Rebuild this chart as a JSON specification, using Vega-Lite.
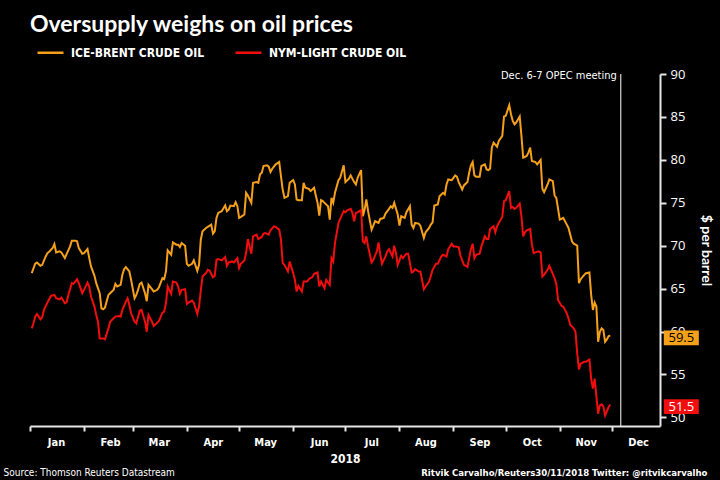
{
 "$schema": "https://vega.github.io/schema/vega-lite/v6.json",
 "width": 630, "height": 352,
 "autosize": {"type": "none"},
 "padding": {"left": 30, "top": 74, "right": 60, "bottom": 54},
 "background": "#000000",
 "config": {"view": {"stroke": null}, "font": "'DejaVu Sans Condensed', Roboto"},
 "title": {"text": "Oversupply weighs on oil prices", "anchor": "start", "frame": "group", "color": "#ffffff", "font": "Lato", "fontSize": 23, "fontWeight": "bold", "offset": 1},
 "datasets": {
  "brent": [{"date":"2018-01-02","price":66.8},{"date":"2018-01-04","price":67.9},{"date":"2018-01-05","price":68.05},{"date":"2018-01-07","price":67.66},{"date":"2018-01-08","price":67.78},{"date":"2018-01-10","price":68.75},{"date":"2018-01-11","price":69.14},{"date":"2018-01-12","price":69.3},{"date":"2018-01-14","price":69.73},{"date":"2018-01-15","price":70.2},{"date":"2018-01-16","price":69.22},{"date":"2018-01-18","price":69.34},{"date":"2018-01-19","price":69.22},{"date":"2018-01-21","price":68.56},{"date":"2018-01-22","price":69.03},{"date":"2018-01-24","price":69.92},{"date":"2018-01-25","price":70.59},{"date":"2018-01-27","price":70.59},{"date":"2018-01-28","price":70.51},{"date":"2018-01-29","price":69.73},{"date":"2018-01-31","price":69.07},{"date":"2018-02-01","price":69.14},{"date":"2018-02-03","price":69.61},{"date":"2018-02-04","price":68.56},{"date":"2018-02-05","price":67.59},{"date":"2018-02-07","price":66.49},{"date":"2018-02-08","price":65.64},{"date":"2018-02-10","price":64.47},{"date":"2018-02-11","price":62.71},{"date":"2018-02-12","price":62.6},{"date":"2018-02-13","price":62.79},{"date":"2018-02-15","price":64.27},{"date":"2018-02-16","price":64.47},{"date":"2018-02-18","price":64.86},{"date":"2018-02-19","price":65.56},{"date":"2018-02-20","price":65.25},{"date":"2018-02-22","price":65.44},{"date":"2018-02-23","price":66.61},{"date":"2018-02-24","price":67.27},{"date":"2018-02-25","price":67.51},{"date":"2018-02-27","price":67.0},{"date":"2018-02-28","price":66.03},{"date":"2018-03-02","price":63.88},{"date":"2018-03-03","price":64.27},{"date":"2018-03-04","price":64.86},{"date":"2018-03-05","price":65.56},{"date":"2018-03-06","price":65.71},{"date":"2018-03-08","price":64.47},{"date":"2018-03-09","price":63.53},{"date":"2018-03-10","price":65.44},{"date":"2018-03-12","price":64.93},{"date":"2018-03-13","price":64.66},{"date":"2018-03-15","price":64.86},{"date":"2018-03-16","price":65.17},{"date":"2018-03-18","price":66.22},{"date":"2018-03-19","price":66.1},{"date":"2018-03-20","price":67.0},{"date":"2018-03-21","price":69.46},{"date":"2018-03-23","price":68.95},{"date":"2018-03-24","price":70.39},{"date":"2018-03-26","price":70.12},{"date":"2018-03-27","price":70.12},{"date":"2018-03-28","price":69.85},{"date":"2018-03-29","price":70.31},{"date":"2018-03-31","price":70.0},{"date":"2018-04-01","price":67.9},{"date":"2018-04-02","price":67.66},{"date":"2018-04-04","price":67.9},{"date":"2018-04-05","price":68.29},{"date":"2018-04-07","price":67.08},{"date":"2018-04-08","price":67.78},{"date":"2018-04-09","price":70.7},{"date":"2018-04-10","price":71.68},{"date":"2018-04-12","price":72.07},{"date":"2018-04-13","price":72.19},{"date":"2018-04-15","price":72.46},{"date":"2018-04-16","price":71.41},{"date":"2018-04-17","price":71.68},{"date":"2018-04-18","price":73.24},{"date":"2018-04-19","price":73.82},{"date":"2018-04-21","price":74.02},{"date":"2018-04-23","price":74.68},{"date":"2018-04-24","price":74.02},{"date":"2018-04-25","price":74.21},{"date":"2018-04-26","price":74.68},{"date":"2018-04-28","price":74.6},{"date":"2018-04-29","price":75.07},{"date":"2018-04-30","price":74.6},{"date":"2018-05-01","price":73.24},{"date":"2018-05-02","price":73.36},{"date":"2018-05-04","price":73.63},{"date":"2018-05-05","price":76.16},{"date":"2018-05-06","price":75.85},{"date":"2018-05-08","price":75.0},{"date":"2018-05-09","price":77.33},{"date":"2018-05-11","price":77.41},{"date":"2018-05-12","price":77.33},{"date":"2018-05-13","price":78.31},{"date":"2018-05-14","price":78.5},{"date":"2018-05-15","price":79.28},{"date":"2018-05-17","price":79.36},{"date":"2018-05-18","price":79.2},{"date":"2018-05-19","price":78.58},{"date":"2018-05-20","price":78.97},{"date":"2018-05-22","price":79.48},{"date":"2018-05-24","price":79.75},{"date":"2018-05-25","price":78.11},{"date":"2018-05-26","price":76.55},{"date":"2018-05-27","price":75.58},{"date":"2018-05-29","price":75.77},{"date":"2018-05-30","price":77.33},{"date":"2018-06-01","price":77.64},{"date":"2018-06-02","price":77.14},{"date":"2018-06-03","price":75.38},{"date":"2018-06-04","price":75.3},{"date":"2018-06-06","price":75.3},{"date":"2018-06-07","price":77.33},{"date":"2018-06-08","price":76.75},{"date":"2018-06-10","price":76.63},{"date":"2018-06-11","price":76.36},{"date":"2018-06-13","price":76.75},{"date":"2018-06-14","price":75.85},{"date":"2018-06-15","price":75.0},{"date":"2018-06-16","price":73.51},{"date":"2018-06-17","price":75.3},{"date":"2018-06-18","price":75.19},{"date":"2018-06-19","price":74.99},{"date":"2018-06-21","price":74.6},{"date":"2018-06-22","price":73.04},{"date":"2018-06-23","price":75.57},{"date":"2018-06-24","price":74.99},{"date":"2018-06-25","price":76.16},{"date":"2018-06-27","price":77.64},{"date":"2018-06-28","price":77.91},{"date":"2018-06-30","price":79.36},{"date":"2018-07-01","price":77.41},{"date":"2018-07-03","price":77.8},{"date":"2018-07-04","price":78.19},{"date":"2018-07-06","price":77.41},{"date":"2018-07-07","price":77.13},{"date":"2018-07-08","price":77.91},{"date":"2018-07-10","price":78.81},{"date":"2018-07-11","price":73.43},{"date":"2018-07-12","price":74.21},{"date":"2018-07-13","price":75.38},{"date":"2018-07-14","price":74.02},{"date":"2018-07-16","price":71.87},{"date":"2018-07-17","price":72.34},{"date":"2018-07-18","price":72.85},{"date":"2018-07-20","price":72.65},{"date":"2018-07-21","price":73.12},{"date":"2018-07-23","price":73.24},{"date":"2018-07-24","price":73.74},{"date":"2018-07-26","price":74.29},{"date":"2018-07-27","price":74.6},{"date":"2018-07-28","price":74.41},{"date":"2018-07-29","price":74.99},{"date":"2018-07-31","price":73.63},{"date":"2018-08-01","price":72.34},{"date":"2018-08-02","price":73.43},{"date":"2018-08-04","price":73.24},{"date":"2018-08-05","price":73.9},{"date":"2018-08-07","price":74.6},{"date":"2018-08-08","price":72.46},{"date":"2018-08-09","price":72.07},{"date":"2018-08-10","price":72.65},{"date":"2018-08-12","price":72.57},{"date":"2018-08-13","price":72.34},{"date":"2018-08-15","price":70.9},{"date":"2018-08-16","price":71.56},{"date":"2018-08-18","price":72.07},{"date":"2018-08-19","price":72.46},{"date":"2018-08-20","price":72.73},{"date":"2018-08-21","price":74.68},{"date":"2018-08-23","price":74.8},{"date":"2018-08-24","price":75.77},{"date":"2018-08-26","price":76.16},{"date":"2018-08-27","price":75.97},{"date":"2018-08-28","price":77.13},{"date":"2018-08-29","price":77.72},{"date":"2018-08-31","price":77.64},{"date":"2018-09-02","price":78.19},{"date":"2018-09-03","price":78.03},{"date":"2018-09-04","price":77.41},{"date":"2018-09-06","price":76.55},{"date":"2018-09-07","price":77.02},{"date":"2018-09-09","price":77.41},{"date":"2018-09-10","price":78.5},{"date":"2018-09-11","price":79.36},{"date":"2018-09-12","price":79.75},{"date":"2018-09-13","price":78.19},{"date":"2018-09-14","price":78.03},{"date":"2018-09-16","price":78.03},{"date":"2018-09-17","price":79.28},{"date":"2018-09-19","price":79.47},{"date":"2018-09-20","price":78.89},{"date":"2018-09-21","price":78.81},{"date":"2018-09-22","price":78.97},{"date":"2018-09-23","price":81.42},{"date":"2018-09-24","price":82.01},{"date":"2018-09-26","price":81.54},{"date":"2018-09-27","price":82.2},{"date":"2018-09-29","price":82.79},{"date":"2018-09-30","price":85.05},{"date":"2018-10-01","price":85.13},{"date":"2018-10-03","price":86.37},{"date":"2018-10-04","price":85.32},{"date":"2018-10-05","price":84.54},{"date":"2018-10-06","price":84.15},{"date":"2018-10-07","price":84.35},{"date":"2018-10-09","price":85.05},{"date":"2018-10-10","price":82.79},{"date":"2018-10-11","price":80.25},{"date":"2018-10-13","price":80.45},{"date":"2018-10-14","price":80.84},{"date":"2018-10-15","price":81.42},{"date":"2018-10-16","price":79.86},{"date":"2018-10-18","price":79.75},{"date":"2018-10-19","price":79.47},{"date":"2018-10-21","price":79.98},{"date":"2018-10-22","price":76.63},{"date":"2018-10-23","price":76.24},{"date":"2018-10-25","price":77.13},{"date":"2018-10-26","price":77.72},{"date":"2018-10-28","price":77.52},{"date":"2018-10-29","price":75.85},{"date":"2018-10-30","price":75.58},{"date":"2018-11-01","price":73.04},{"date":"2018-11-02","price":73.12},{"date":"2018-11-03","price":73.24},{"date":"2018-11-05","price":72.46},{"date":"2018-11-06","price":72.07},{"date":"2018-11-08","price":70.51},{"date":"2018-11-09","price":70.23},{"date":"2018-11-11","price":70.0},{"date":"2018-11-12","price":65.63},{"date":"2018-11-13","price":66.1},{"date":"2018-11-15","price":66.61},{"date":"2018-11-16","price":66.8},{"date":"2018-11-18","price":66.88},{"date":"2018-11-19","price":64.27},{"date":"2018-11-20","price":62.52},{"date":"2018-11-21","price":63.37},{"date":"2018-11-22","price":62.91},{"date":"2018-11-23","price":58.81},{"date":"2018-11-24","price":59.98},{"date":"2018-11-25","price":60.37},{"date":"2018-11-26","price":60.17},{"date":"2018-11-27","price":58.81},{"date":"2018-11-28","price":59.08},{"date":"2018-11-29","price":59.47},{"date":"2018-11-30","price":59.5}],
  "wti": [{"date":"2018-01-02","price":60.37},{"date":"2018-01-03","price":60.96},{"date":"2018-01-04","price":61.74},{"date":"2018-01-05","price":62.05},{"date":"2018-01-07","price":61.43},{"date":"2018-01-08","price":61.66},{"date":"2018-01-09","price":62.52},{"date":"2018-01-11","price":63.37},{"date":"2018-01-12","price":63.76},{"date":"2018-01-13","price":64.15},{"date":"2018-01-15","price":64.27},{"date":"2018-01-16","price":63.88},{"date":"2018-01-18","price":63.76},{"date":"2018-01-19","price":63.96},{"date":"2018-01-21","price":63.3},{"date":"2018-01-22","price":63.41},{"date":"2018-01-23","price":64.27},{"date":"2018-01-25","price":65.64},{"date":"2018-01-26","price":65.56},{"date":"2018-01-28","price":66.1},{"date":"2018-01-29","price":65.64},{"date":"2018-01-31","price":64.47},{"date":"2018-02-01","price":64.86},{"date":"2018-02-03","price":65.71},{"date":"2018-02-04","price":65.25},{"date":"2018-02-05","price":64.08},{"date":"2018-02-07","price":62.91},{"date":"2018-02-08","price":61.93},{"date":"2018-02-09","price":61.15},{"date":"2018-02-10","price":59.2},{"date":"2018-02-12","price":59.2},{"date":"2018-02-13","price":59.09},{"date":"2018-02-15","price":60.37},{"date":"2018-02-16","price":61.15},{"date":"2018-02-18","price":61.54},{"date":"2018-02-19","price":61.74},{"date":"2018-02-21","price":61.81},{"date":"2018-02-22","price":61.74},{"date":"2018-02-23","price":62.52},{"date":"2018-02-25","price":63.49},{"date":"2018-02-26","price":63.88},{"date":"2018-02-27","price":63.1},{"date":"2018-02-28","price":62.13},{"date":"2018-03-02","price":61.15},{"date":"2018-03-03","price":60.96},{"date":"2018-03-05","price":62.44},{"date":"2018-03-06","price":62.52},{"date":"2018-03-08","price":61.15},{"date":"2018-03-09","price":59.98},{"date":"2018-03-10","price":61.93},{"date":"2018-03-12","price":61.15},{"date":"2018-03-13","price":60.65},{"date":"2018-03-15","price":61.04},{"date":"2018-03-16","price":61.23},{"date":"2018-03-18","price":62.21},{"date":"2018-03-19","price":62.32},{"date":"2018-03-20","price":63.3},{"date":"2018-03-21","price":65.25},{"date":"2018-03-23","price":64.39},{"date":"2018-03-24","price":65.83},{"date":"2018-03-26","price":65.71},{"date":"2018-03-27","price":65.25},{"date":"2018-03-28","price":64.39},{"date":"2018-03-29","price":64.86},{"date":"2018-03-31","price":64.93},{"date":"2018-04-01","price":63.22},{"date":"2018-04-02","price":63.37},{"date":"2018-04-04","price":63.61},{"date":"2018-04-05","price":63.37},{"date":"2018-04-07","price":62.05},{"date":"2018-04-08","price":62.91},{"date":"2018-04-09","price":64.78},{"date":"2018-04-10","price":66.42},{"date":"2018-04-12","price":66.81},{"date":"2018-04-13","price":67.2},{"date":"2018-04-14","price":67.12},{"date":"2018-04-16","price":66.34},{"date":"2018-04-17","price":66.49},{"date":"2018-04-18","price":68.36},{"date":"2018-04-19","price":68.44},{"date":"2018-04-21","price":68.29},{"date":"2018-04-23","price":68.68},{"date":"2018-04-24","price":67.66},{"date":"2018-04-25","price":68.05},{"date":"2018-04-27","price":68.17},{"date":"2018-04-28","price":68.05},{"date":"2018-04-30","price":68.56},{"date":"2018-05-01","price":67.39},{"date":"2018-05-02","price":67.9},{"date":"2018-05-04","price":68.29},{"date":"2018-05-05","price":69.14},{"date":"2018-05-06","price":70.78},{"date":"2018-05-08","price":69.07},{"date":"2018-05-09","price":71.09},{"date":"2018-05-11","price":71.29},{"date":"2018-05-12","price":70.78},{"date":"2018-05-14","price":71.02},{"date":"2018-05-15","price":71.41},{"date":"2018-05-16","price":71.48},{"date":"2018-05-18","price":71.29},{"date":"2018-05-19","price":71.8},{"date":"2018-05-21","price":72.26},{"date":"2018-05-22","price":72.19},{"date":"2018-05-24","price":71.87},{"date":"2018-05-25","price":70.7},{"date":"2018-05-26","price":67.97},{"date":"2018-05-27","price":67.78},{"date":"2018-05-29","price":67.0},{"date":"2018-05-30","price":68.17},{"date":"2018-06-01","price":66.81},{"date":"2018-06-02","price":66.03},{"date":"2018-06-03","price":64.66},{"date":"2018-06-04","price":65.32},{"date":"2018-06-06","price":64.66},{"date":"2018-06-07","price":65.83},{"date":"2018-06-09","price":65.83},{"date":"2018-06-10","price":66.1},{"date":"2018-06-12","price":66.34},{"date":"2018-06-13","price":66.73},{"date":"2018-06-15","price":66.88},{"date":"2018-06-16","price":65.25},{"date":"2018-06-17","price":65.83},{"date":"2018-06-19","price":65.05},{"date":"2018-06-20","price":66.02},{"date":"2018-06-22","price":65.44},{"date":"2018-06-23","price":68.56},{"date":"2018-06-24","price":68.17},{"date":"2018-06-25","price":70.31},{"date":"2018-06-27","price":72.65},{"date":"2018-06-28","price":73.12},{"date":"2018-06-30","price":74.02},{"date":"2018-07-01","price":73.9},{"date":"2018-07-02","price":74.13},{"date":"2018-07-04","price":74.29},{"date":"2018-07-05","price":73.82},{"date":"2018-07-06","price":72.85},{"date":"2018-07-07","price":73.82},{"date":"2018-07-08","price":73.9},{"date":"2018-07-10","price":74.13},{"date":"2018-07-11","price":70.51},{"date":"2018-07-12","price":70.31},{"date":"2018-07-13","price":71.09},{"date":"2018-07-14","price":69.92},{"date":"2018-07-16","price":68.05},{"date":"2018-07-17","price":68.36},{"date":"2018-07-19","price":69.34},{"date":"2018-07-20","price":70.39},{"date":"2018-07-21","price":68.95},{"date":"2018-07-22","price":67.9},{"date":"2018-07-24","price":68.75},{"date":"2018-07-25","price":69.34},{"date":"2018-07-26","price":69.61},{"date":"2018-07-28","price":68.75},{"date":"2018-07-29","price":70.0},{"date":"2018-07-30","price":69.14},{"date":"2018-07-31","price":67.78},{"date":"2018-08-02","price":68.83},{"date":"2018-08-03","price":68.56},{"date":"2018-08-05","price":69.07},{"date":"2018-08-06","price":69.07},{"date":"2018-08-08","price":66.88},{"date":"2018-08-09","price":67.0},{"date":"2018-08-10","price":67.27},{"date":"2018-08-12","price":67.0},{"date":"2018-08-13","price":67.0},{"date":"2018-08-15","price":64.93},{"date":"2018-08-16","price":65.25},{"date":"2018-08-18","price":65.83},{"date":"2018-08-19","price":66.49},{"date":"2018-08-20","price":67.19},{"date":"2018-08-22","price":67.9},{"date":"2018-08-23","price":67.9},{"date":"2018-08-25","price":68.75},{"date":"2018-08-26","price":68.95},{"date":"2018-08-28","price":68.75},{"date":"2018-08-29","price":69.61},{"date":"2018-08-31","price":70.23},{"date":"2018-09-01","price":69.92},{"date":"2018-09-02","price":69.92},{"date":"2018-09-04","price":69.84},{"date":"2018-09-05","price":68.83},{"date":"2018-09-07","price":67.78},{"date":"2018-09-08","price":67.66},{"date":"2018-09-09","price":67.51},{"date":"2018-09-11","price":69.61},{"date":"2018-09-12","price":70.23},{"date":"2018-09-13","price":68.56},{"date":"2018-09-14","price":68.95},{"date":"2018-09-16","price":69.07},{"date":"2018-09-17","price":69.92},{"date":"2018-09-19","price":71.09},{"date":"2018-09-20","price":70.78},{"date":"2018-09-21","price":70.78},{"date":"2018-09-22","price":71.95},{"date":"2018-09-24","price":72.26},{"date":"2018-09-25","price":71.56},{"date":"2018-09-26","price":72.26},{"date":"2018-09-27","price":72.65},{"date":"2018-09-29","price":73.35},{"date":"2018-09-30","price":75.19},{"date":"2018-10-01","price":75.3},{"date":"2018-10-03","price":76.36},{"date":"2018-10-04","price":74.41},{"date":"2018-10-05","price":74.52},{"date":"2018-10-06","price":74.29},{"date":"2018-10-07","price":74.41},{"date":"2018-10-09","price":74.91},{"date":"2018-10-10","price":73.43},{"date":"2018-10-11","price":71.09},{"date":"2018-10-12","price":71.56},{"date":"2018-10-13","price":71.8},{"date":"2018-10-15","price":71.95},{"date":"2018-10-16","price":70.12},{"date":"2018-10-17","price":69.14},{"date":"2018-10-18","price":69.22},{"date":"2018-10-20","price":69.34},{"date":"2018-10-21","price":69.22},{"date":"2018-10-22","price":66.41},{"date":"2018-10-23","price":66.61},{"date":"2018-10-25","price":67.19},{"date":"2018-10-26","price":67.66},{"date":"2018-10-27","price":67.19},{"date":"2018-10-29","price":66.22},{"date":"2018-10-30","price":65.56},{"date":"2018-10-31","price":63.68},{"date":"2018-11-02","price":62.98},{"date":"2018-11-03","price":62.91},{"date":"2018-11-05","price":62.13},{"date":"2018-11-06","price":61.54},{"date":"2018-11-07","price":60.76},{"date":"2018-11-09","price":60.37},{"date":"2018-11-10","price":59.98},{"date":"2018-11-11","price":57.45},{"date":"2018-11-12","price":55.57},{"date":"2018-11-13","price":56.27},{"date":"2018-11-15","price":56.47},{"date":"2018-11-16","price":56.47},{"date":"2018-11-18","price":56.75},{"date":"2018-11-19","price":54.52},{"date":"2018-11-20","price":53.35},{"date":"2018-11-21","price":54.52},{"date":"2018-11-23","price":50.43},{"date":"2018-11-24","price":51.4},{"date":"2018-11-25","price":51.52},{"date":"2018-11-26","price":51.29},{"date":"2018-11-27","price":50.23},{"date":"2018-11-29","price":51.21},{"date":"2018-11-30","price":51.5}],
  "last": [{"series":"ICE-BRENT CRUDE OIL","date":"2018-11-30","price":59.5},{"series":"NYM-LIGHT CRUDE OIL","date":"2018-11-30","price":51.5}],
  "opec": [{"date":"2018-12-06","price":90,"label":"Dec. 6-7 OPEC meeting"}]
 },
 "resolve": {"scale": {"x": "shared", "y": "shared", "color": "shared"}, "axis": {"x": "independent", "y": "independent"}},
 "layer": [
  {
   "data": {"name": "brent"},
   "mark": {"type": "line", "strokeWidth": 2},
   "encoding": {
    "x": {"field": "date", "type": "temporal",
     "scale": {"type": "utc", "domain": [{"year": 2018, "month": 1, "date": 1, "utc": true}, {"year": 2018, "month": 12, "date": 28, "hours": 12, "utc": true}]},
     "axis": {"orient": "bottom", "tickCount": {"interval": "month", "step": 1}, "format": "%b", "labelOffset": 26, "labelFlush": false, "labelOverlap": false, "labelColor": "#ffffff", "labelFont": "'DejaVu Sans Condensed', Roboto", "labelFontSize": 11, "labelFontWeight": "bold", "labelPadding": 5, "tickSize": 5, "tickWidth": 2, "tickColor": "#e6e6e6", "domainColor": "#e6e6e6", "domainWidth": 2, "grid": false, "title": "2018", "titleColor": "#ffffff", "titleFont": "'DejaVu Sans Condensed', Roboto", "titleFontSize": 12, "titleFontWeight": "bold", "titlePadding": 6}},
    "y": {"field": "price", "type": "quantitative",
     "scale": {"domain": [49, 90], "nice": false, "zero": false},
     "axis": {"orient": "right", "values": [50, 55, 60, 65, 70, 75, 80, 85, 90], "grid": false, "title": "$ per barrel", "titleColor": "#ffffff", "titleFont": "Lato", "titleFontSize": 14, "titleFontWeight": "bold", "titlePadding": 14, "labelColor": "#ffffff", "labelFont": "Open Sans", "labelFontSize": 13, "labelPadding": 4, "tickColor": "#e6e6e6", "tickWidth": 2, "tickSize": 6, "domainColor": "#e6e6e6", "domainWidth": 2}},
    "color": {"datum": "ICE-BRENT CRUDE OIL", "type": "nominal",
     "scale": {"domain": ["ICE-BRENT CRUDE OIL", "NYM-LIGHT CRUDE OIL"], "range": ["#f5a01a", "#f00e0e"]},
     "legend": {"orient": "none", "legendX": 6, "legendY": -36, "direction": "horizontal", "title": null, "symbolType": "stroke", "symbolSize": 676, "symbolStrokeWidth": 2.5, "labelColor": "#ffffff", "labelFont": "'DejaVu Sans Condensed', Roboto", "labelFontSize": 12, "labelFontWeight": "bold", "labelOffset": 6, "columnPadding": 25, "padding": 0}}
   }
  },
  {
   "data": {"name": "wti"},
   "mark": {"type": "line", "strokeWidth": 2},
   "encoding": {
    "x": {"field": "date", "type": "temporal", "scale": {"type": "utc", "domain": [{"year": 2018, "month": 1, "date": 1, "utc": true}, {"year": 2018, "month": 12, "date": 28, "hours": 12, "utc": true}]}, "axis": null},
    "y": {"field": "price", "type": "quantitative", "scale": {"domain": [49, 90], "nice": false, "zero": false}, "axis": null},
    "color": {"datum": "NYM-LIGHT CRUDE OIL", "type": "nominal"}
   }
  },
  {
   "data": {"name": "opec"},
   "mark": {"type": "rule", "color": "#ffffff", "strokeWidth": 1},
   "encoding": {
    "x": {"field": "date", "type": "temporal", "scale": {"type": "utc", "domain": [{"year": 2018, "month": 1, "date": 1, "utc": true}, {"year": 2018, "month": 12, "date": 28, "hours": 12, "utc": true}]},
     "axis": {"orient": "bottom", "labels": false, "ticks": false, "domain": false, "grid": false, "title": "Source: Thomson Reuters Datastream", "titleX": -27, "titleY": 49, "titleAlign": "left", "titleBaseline": "alphabetic", "titleAngle": 0, "titleColor": "#ffffff", "titleFont": "'DejaVu Sans Condensed', Roboto", "titleFontSize": 10, "titleFontWeight": "normal"}}
   }
  },
  {
   "data": {"name": "opec"},
   "mark": {"type": "text", "align": "right", "baseline": "middle", "dx": -4, "dy": 2, "color": "#ffffff", "font": "'DejaVu Sans Condensed', Roboto", "fontSize": 11},
   "encoding": {
    "x": {"field": "date", "type": "temporal", "scale": {"type": "utc", "domain": [{"year": 2018, "month": 1, "date": 1, "utc": true}, {"year": 2018, "month": 12, "date": 28, "hours": 12, "utc": true}]}, "axis": null},
    "y": {"field": "price", "type": "quantitative", "scale": {"domain": [49, 90], "nice": false, "zero": false}, "axis": null},
    "text": {"field": "label"}
   }
  },
  {
   "data": {"name": "last"},
   "mark": {"type": "point", "shape": "M-1,-0.42H1V0.42H-1Z", "size": 1225, "filled": true, "opacity": 1, "strokeWidth": 0, "xOffset": 71, "yOffset": 2},
   "encoding": {
    "x": {"field": "date", "type": "temporal", "scale": {"type": "utc", "domain": [{"year": 2018, "month": 1, "date": 1, "utc": true}, {"year": 2018, "month": 12, "date": 28, "hours": 12, "utc": true}]},
     "axis": {"orient": "bottom", "labels": false, "ticks": false, "domain": false, "grid": false, "title": "Ritvik Carvalho/Reuters30/11/2018 Twitter: @ritvikcarvalho", "titleX": 677, "titleY": 49, "titleAlign": "right", "titleBaseline": "alphabetic", "titleAngle": 0, "titleColor": "#ffffff", "titleFont": "'DejaVu Sans Condensed', Roboto", "titleFontSize": 9.5, "titleFontWeight": "bold"}},
    "y": {"field": "price", "type": "quantitative", "scale": {"domain": [49, 90], "nice": false, "zero": false}, "axis": null},
    "color": {"field": "series", "type": "nominal", "legend": null}
   }
  },
  {
   "data": {"name": "last"},
   "mark": {"type": "text", "align": "center", "baseline": "middle", "dx": 71, "dy": 2, "font": "Open Sans", "fontSize": 13},
   "encoding": {
    "x": {"field": "date", "type": "temporal", "scale": {"type": "utc", "domain": [{"year": 2018, "month": 1, "date": 1, "utc": true}, {"year": 2018, "month": 12, "date": 28, "hours": 12, "utc": true}]}, "axis": null},
    "y": {"field": "price", "type": "quantitative", "scale": {"domain": [49, 90], "nice": false, "zero": false}, "axis": null},
    "text": {"field": "price", "type": "quantitative", "format": ".1f"},
    "color": {"condition": {"test": "datum.price > 55", "value": "#000000"}, "value": "#ffffff"}
   }
  }
 ]
}
